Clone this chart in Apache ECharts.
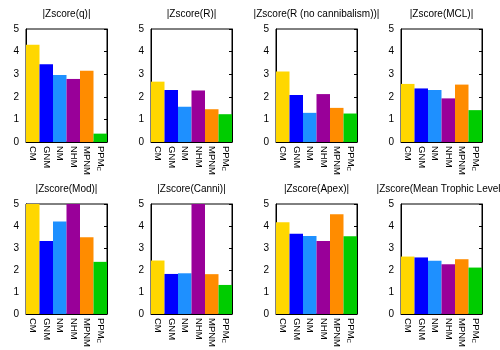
<!DOCTYPE html>
<html>
<head>
<meta charset="utf-8">
<script src="https://cdn.jsdelivr.net/npm/echarts@6/dist/echarts.min.js"></script>
<style>html,body{margin:0;padding:0;background:#fff}#c{width:500px;height:350px}</style>
</head>
<body>
<div id="c"></div>
<script>
const categories = ['CM', 'GNM', 'NM', 'NHM', 'MPNM', 'PPMC'];
const titles = ['|Zscore(q)|', '|Zscore(R)|', '|Zscore(R (no cannibalism))|', '|Zscore(MCL)|',
                '|Zscore(Mod)|', '|Zscore(Canni)|', '|Zscore(Apex)|', '|Zscore(Mean Trophic Level)|'];
const zq      = [4.30, 3.44, 2.97, 2.79, 3.15, 0.37];
const zR      = [2.67, 2.30, 1.56, 2.28, 1.45, 1.23];
const zRnc    = [3.12, 2.08, 1.29, 2.12, 1.51, 1.26];
const zMCL    = [2.57, 2.37, 2.30, 1.93, 2.54, 1.41];
const zMod    = [5.6, 3.32, 4.20, 5.8, 3.49, 2.37];
const zCanni  = [2.43, 1.82, 1.85, 6.2, 1.81, 1.32];
const zApex   = [4.17, 3.65, 3.55, 3.32, 4.53, 3.53];
const zMTL    = [2.61, 2.57, 2.42, 2.26, 2.49, 2.11];
const yTicks  = [0, 1, 2, 3, 4, 5];
const barColors = ['#ffd700', '#0000ff', '#1e90ff', '#990099', '#ff8c00', '#00cc00'];
const panels = [zq, zR, zRnc, zMCL, zMod, zCanni, zApex, zMTL];

const chart = echarts.init(document.getElementById('c'));
const grid = [], xAxis = [], yAxis = [], series = [], title = [];
const font = 'Liberation Sans, Arial, Helvetica, sans-serif';
panels.forEach((vals, i) => {
  const col = i % 4, row = Math.floor(i / 4);
  const left = 26 + 125 * col, top = 29 + 175 * row;
  grid.push({left: left, top: top, width: 81, height: 113, show: true, borderColor: '#000', borderWidth: 1, backgroundColor: 'transparent'});
  title.push({text: titles[i], left: left + 40.5, top: top - 20, textAlign: 'center', padding: 0,
    textStyle: {fontSize: 10, fontWeight: 'normal', color: '#000', fontFamily: font}});
  xAxis.push({type: 'category', gridIndex: i, data: categories,
    axisLine: {show: true, lineStyle: {color: '#000'}}, axisTick: {show: false},
    axisLabel: {rotate: -90, interval: 0, margin: 4, fontSize: 9.5, color: '#000', fontFamily: font,
      formatter: v => v === 'PPMC' ? 'PPM{s|C}' : v,
      rich: {s: {fontSize: 6, color: '#000', fontFamily: font, padding: [4, 0, 0, 0]}}}});
  yAxis.push({type: 'value', gridIndex: i, min: 0, max: 5, interval: 1, position: 'left',
    axisLine: {show: true, lineStyle: {color: '#000'}},
    axisTick: {show: false},
    axisLabel: {fontSize: 10, color: '#000', margin: 7, fontFamily: font, formatter: v => String(v)},
    splitLine: {show: false}});
  yAxis.push({type: 'value', gridIndex: i, min: 0, max: 5, interval: 1, position: 'right',
    axisLine: {show: true, lineStyle: {color: '#000'}},
    axisTick: {show: true, inside: true, length: 3, lineStyle: {color: '#000'}},
    axisLabel: {show: false}, splitLine: {show: false}});
  series.push({type: 'bar', xAxisIndex: i, yAxisIndex: 2 * i, barWidth: '100%', barCategoryGap: 0, clip: true,
    data: vals.map((v, k) => ({value: v, itemStyle: {color: barColors[k]}})), z: 1});
});
chart.setOption({animation: false, title, grid, xAxis, yAxis, series});
</script>
</body>
</html>
